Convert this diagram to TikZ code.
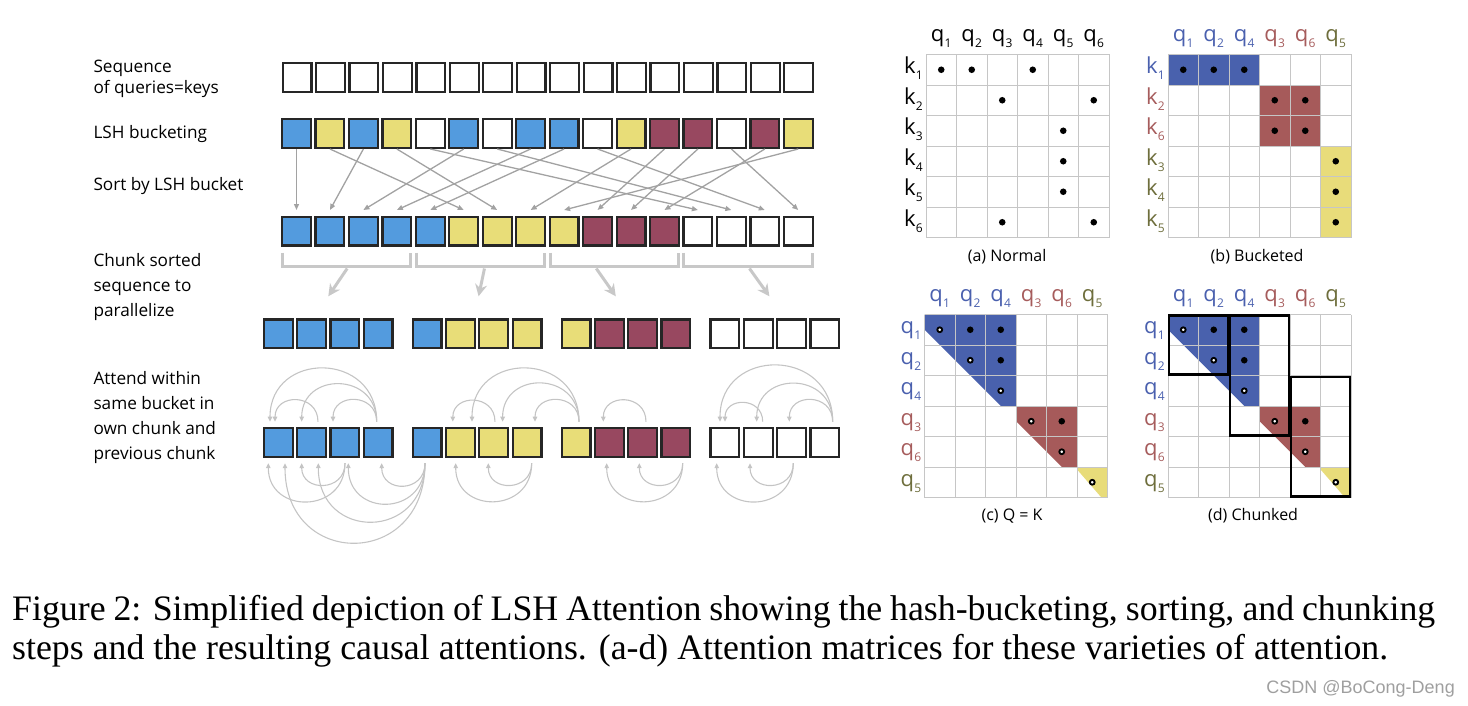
\documentclass[tikz,border=0pt]{standalone}
\usepackage{fontspec}
\setmainfont{Liberation Serif}
\newfontfamily\figfont{Open Sans}
\newfontfamily\wmfont{Liberation Sans}
\usetikzlibrary{arrows.meta,calc}

\definecolor{seqblue}{HTML}{539BDE}
\definecolor{seqyellow}{HTML}{E8DD78}
\definecolor{seqred}{HTML}{984860}
\definecolor{boxline}{HTML}{262626}
\definecolor{matblue}{HTML}{4961AD}
\definecolor{matred}{HTML}{A65A5A}
\definecolor{matyellow}{HTML}{E8DC7A}
\definecolor{labblue}{HTML}{4A60AE}
\definecolor{labred}{HTML}{A65C5C}
\definecolor{labolive}{HTML}{6E6E3C}
\definecolor{arcgray}{HTML}{C4C4C4}
\definecolor{bracegray}{HTML}{C8C8C8}
\definecolor{sortgray}{HTML}{A2A2A2}

\newcommand{\lbl}[2]{#1\kern0.3pt\raisebox{-6pt}{\fontsize{12}{12}\selectfont #2}}

\begin{document}
\begin{tikzpicture}[x=1pt,y=-1pt,
    cell/.style={draw=boxline,line width=2.2pt,minimum size=28.8pt,inner sep=0pt},
    sortarrow/.style={sortgray,line width=1.3pt,-{Triangle[length=6pt,width=5pt]}},
    brace/.style={draw=bracegray,line width=3pt},
    chunkarrow/.style={bracegray,line width=3pt,-{Stealth[length=12pt,width=12pt,inset=4pt]}},
    attarc/.style={arcgray,line width=1.1pt,-{Triangle[length=5pt,width=4.5pt]}},
    steplabel/.style={anchor=base west,inner sep=0pt,align=left,font=\figfont\fontsize{17.2}{25}\selectfont},
    collabel/.style={anchor=base,inner sep=0pt,font=\figfont\fontsize{22}{22}\selectfont},
    rowlabel/.style={anchor=base east,inner sep=0pt,font=\figfont\fontsize{22}{22}\selectfont},
    capt/.style={anchor=base,inner sep=0pt,font=\figfont\fontsize{16}{16}\selectfont},
    gridline/.style={gray!45,line width=0.9pt},
    soliddot/.style={fill=black},
    ringdot/.style={draw=black,fill=white,line width=1.9pt},
    chunkbox/.style={draw=black,line width=2.4pt}
  ]
  \useasboundingbox (0,0) rectangle (1468,706);

  % step labels (base = last line)
  \node[steplabel] (lseq) at (93.3,93.3) {Sequence\\[-4pt]of queries=keys};
  \node[steplabel] (llsh) at (93.3,139) {LSH bucketing};
  \node[steplabel] (lsort) at (93.3,190.7) {Sort by LSH bucket};
  \node[steplabel] (lchunk) at (93.3,316) {Chunk sorted\\sequence to\\parallelize};
  \node[steplabel] (lattend) at (93.3,459.3) {Attend within\\same bucket in\\own chunk and\\previous chunk};

  % rows of queries
  \foreach \i in {1,...,16}
    \node[cell] (s\i) at ({297+33.45*(\i-1)},77.5) {};
  \foreach \c [count=\i] in {seqblue,seqyellow,seqblue,seqyellow,white,seqblue,white,seqblue,
                             seqblue,white,seqyellow,seqred,seqred,white,seqred,seqyellow}
    \node[cell,fill=\c] (h\i) at ({296.5+33.45*(\i-1)},133.5) {};
  \foreach \c [count=\i] in {seqblue,seqblue,seqblue,seqblue,seqblue,seqyellow,seqyellow,seqyellow,
                             seqyellow,seqred,seqred,seqred,white,white,white,white}
    \node[cell,fill=\c] (o\i) at ({296.5+33.45*(\i-1)},231) {};
  \foreach \c [count=\i] in {seqblue,seqblue,seqblue,seqblue,seqblue,seqyellow,seqyellow,seqyellow,
                             seqyellow,seqred,seqred,seqred,white,white,white,white} {
    \pgfmathsetmacro\cx{278.2+148.9*floor((\i-1)/4)+33.3*mod(\i-1,4)}
    \node[cell,fill=\c] (c\i) at (\cx,333.8) {};
    \node[cell,fill=\c] (t\i) at (\cx,442.2) {};
  }

  % sorting
  \foreach \a/\b in {1/1,3/2,6/3,8/4,9/5,2/6,4/7,11/8,16/9,12/10,13/11,15/12,5/13,7/14,10/15,14/16}
    \draw[sortarrow] (h\a.south) -- ([yshift=5.5pt]o\b.north);

  % chunking
  \foreach \g/\a/\b/\sx/\n/\ex in {1/1/4/0.5/2/1.3,2/5/8/4/6/2.7,3/9/12/-18/10/-9,4/13/16/1.4/14/-4.3} {
    \draw[brace] ([xshift=1.5pt,yshift=-6pt]o\a.south west) -- ([xshift=1.5pt,yshift=-20pt]o\a.south west)
      -- ([xshift=-1.5pt,yshift=-20pt]o\b.south east) -- ([xshift=-1.5pt,yshift=-6pt]o\b.south east);
    \coordinate (m\g) at ($(o\a.south west)!0.5!(o\b.south east)$);
    \draw[chunkarrow] ([xshift=\sx pt,yshift=-22pt]m\g) -- ([xshift=\ex pt,yshift=22pt]c\n.north east);
  }

  % attention above
  \foreach \a/\sx/\b/\tx/\h in {2/6.5/1/-3.2/28.7,4/-1.4/1/-8.2/71,4/-1.4/2/-9.8/50,4/-1.4/3/-11.8/29,
      7/1.3/6/-7.6/28,9/3/6/11.6/71,9/3/7/8.9/51,9/3/8/8/29,11/3.4/10/-6/28.5,
      14/4.5/13/0.1/25,16/7.9/13/-4.9/75,16/7.9/14/-1.5/50.7,16/7.9/15/-2.2/29}
    \draw[attarc] ([xshift=\sx pt,yshift=5pt]t\a.north) .. controls +(0,-\h) and +(0,-\h) .. ([xshift=\tx pt,yshift=5pt]t\b.north);
  % attention below
  \foreach \a/\sx/\b/\tx/\h in {3/0.2/1/-9.9/51,3/0.2/2/-9.8/29,5/-2.1/1/6.8/106,5/-2.1/2/6.8/78,
      5/-2.1/3/3.5/54,5/-2.1/4/3.6/30,8/4.7/6/-4.7/50.7,8/4.7/7/-5.4/29,
      12/6.8/10/-2.6/50.7,12/6.8/11/-3.3/29,15/1.8/13/-8.2/51,15/1.8/14/-8.2/29}
    \draw[attarc] ([xshift=\sx pt,yshift=-5.5pt]t\a.south) .. controls +(0,\h) and +(0,\h) .. ([xshift=\tx pt,yshift=-5.5pt]t\b.south);

  % (a) normal
  \begin{scope}[shift={(926,54.5)},x=30.5pt,y=-30.5pt]
    \foreach \k in {0,...,6} {
      \draw[gridline] (\k,0) -- (\k,6);
      \draw[gridline] (0,\k) -- (6,\k);
    }
    \foreach \k in {1,...,6} {
      \node[collabel] (na-q\k) at (\k-0.5,-0.44) {\lbl{q}{\k}};
      \node[rowlabel] (na-k\k) at (-0.1,\k-0.37) {\lbl{k}{\k}};
    }
    \foreach \x/\y in {1/1,2/1,4/1,3/2,6/2,5/3,5/4,5/5,3/6,6/6}
      \fill[soliddot] (\x-0.5,\y-0.5) circle (3.3pt);
    \node[capt] (capa) at (2.66,6.8) {(a) Normal};
  \end{scope}

  % (b) bucketed
  \begin{scope}[shift={(1168,54.5)},x=30.5pt,y=-30.5pt]
    \fill[matblue] (0,0) rectangle (3,1);
    \fill[matred] (3,1) rectangle (5,3);
    \fill[matyellow] (5,3) rectangle (6,6);
    \foreach \k in {0,...,6} {
      \draw[gridline] (\k,0) -- (\k,6);
      \draw[gridline] (0,\k) -- (6,\k);
    }
    \foreach \n/\col [count=\k] in {1/labblue,2/labblue,4/labblue,3/labred,6/labred,5/labolive}
      \node[collabel,text=\col] (nb-q\k) at (\k-0.5,-0.44) {\lbl{q}{\n}};
    \foreach \n/\col [count=\k] in {1/labblue,2/labred,6/labred,3/labolive,4/labolive,5/labolive}
      \node[rowlabel,text=\col] (nb-k\k) at (-0.1,\k-0.37) {\lbl{k}{\n}};
    \foreach \x/\y in {1/1,2/1,3/1,4/2,5/2,4/3,5/3,6/4,6/5,6/6}
      \fill[soliddot] (\x-0.5,\y-0.5) circle (3.3pt);
    \node[capt] (capb) at (2.92,6.8) {(b) Bucketed};
  \end{scope}

  % (c) shared QK
  \begin{scope}[shift={(924.5,314.5)},x=30.5pt,y=-30.5pt]
    \fill[matblue] (0,0) -- (3,0) -- (3,3) -- (2.5,3) -- (0,0.5) -- cycle;
    \fill[matred] (3,3) -- (5,3) -- (5,5) -- (4.5,5) -- (3,3.5) -- cycle;
    \fill[matyellow] (5,5) -- (6,5) -- (6,6) -- (5.8,6) -- (5,5.08) -- cycle;
    \foreach \k in {0,...,6} {
      \draw[gridline] (\k,0) -- (\k,6);
      \draw[gridline] (0,\k) -- (6,\k);
    }
    \foreach \n/\col [count=\k] in {1/labblue,2/labblue,4/labblue,3/labred,6/labred,5/labolive} {
      \node[collabel,text=\col] (nc-c\k) at (\k-0.5,-0.44) {\lbl{q}{\n}};
      \node[rowlabel,text=\col] (nc-r\k) at (-0.1,\k-0.37) {\lbl{q}{\n}};
    }
    \foreach \x/\y in {2/1,3/1,3/2,5/4}
      \fill[soliddot] (\x-0.5,\y-0.5) circle (3.3pt);
    \foreach \k in {1,...,6}
      \draw[ringdot] (\k-0.5,\k-0.5) circle (2.4pt);
    \node[capt] (capc) at (2.87,6.77) {(c) Q = K};
  \end{scope}

  % (d) chunked
  \begin{scope}[shift={(1168,314.5)},x=30.5pt,y=-30.5pt]
    \fill[matblue] (0,0) -- (3,0) -- (3,3) -- (2.5,3) -- (0,0.5) -- cycle;
    \fill[matred] (3,3) -- (5,3) -- (5,5) -- (4.5,5) -- (3,3.5) -- cycle;
    \fill[matyellow] (5,5) -- (6,5) -- (6,6) -- (5.8,6) -- (5,5.08) -- cycle;
    \foreach \k in {0,...,6} {
      \draw[gridline] (\k,0) -- (\k,6);
      \draw[gridline] (0,\k) -- (6,\k);
    }
    \foreach \n/\col [count=\k] in {1/labblue,2/labblue,4/labblue,3/labred,6/labred,5/labolive} {
      \node[collabel,text=\col] (nd-c\k) at (\k-0.5,-0.44) {\lbl{q}{\n}};
      \node[rowlabel,text=\col] (nd-r\k) at (-0.1,\k-0.37) {\lbl{q}{\n}};
    }
    \foreach \x/\y in {2/1,3/1,3/2,5/4}
      \fill[soliddot] (\x-0.5,\y-0.5) circle (3.3pt);
    \foreach \k in {1,...,6}
      \draw[ringdot] (\k-0.5,\k-0.5) circle (2.4pt);
    \draw[chunkbox] (0.03,0.03) rectangle (1.96,1.97);
    \draw[chunkbox] (2.04,0.03) rectangle (3.96,3.97);
    \draw[chunkbox] (4.04,2.04) rectangle (5.97,5.97);
    \node[capt] (capd) at (2.79,6.77) {(d) Chunked};
  \end{scope}

  % caption (base = last line)
  \node[anchor=base west,inner sep=0pt,align=left,font=\fontsize{35.8}{39}\selectfont] (caption) at (12,659)
    {\hbox to 1423pt{Figure 2: Simplified depiction of LSH Attention showing the hash-bucketing, sorting, and chunking}\\
     steps and the resulting causal attentions. (a-d) Attention matrices for these varieties of attention.};
  \node[anchor=base east,inner sep=0pt,text=gray!75,font=\wmfont\fontsize{18}{18}\selectfont] (mark) at (1455,693) {CSDN @BoCong-Deng};
\end{tikzpicture}
\end{document}
